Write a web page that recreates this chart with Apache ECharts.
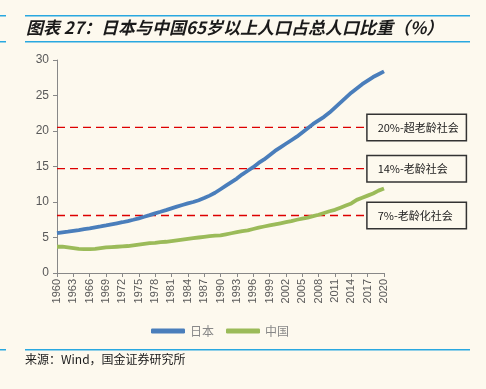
<!DOCTYPE html>
<html><head><meta charset="utf-8">
<script src="https://cdn.jsdelivr.net/npm/echarts@6/dist/echarts.min.js"></script>
<style>html,body{margin:0;padding:0;background:#fdf9ee;}#c{width:486px;height:389px;}</style>
</head><body><div id="c"></div>
<script>
const years = [];
for (let y = 1960; y <= 2020; y++) years.push(String(y));
const japan = [5.62,5.73,5.83,5.94,6.05,6.18,6.3,6.43,6.56,6.7,6.85,7.0,7.15,7.32,7.5,7.7,7.92,8.15,8.4,8.62,8.85,9.1,9.35,9.58,9.8,10.0,10.25,10.55,10.9,11.3,11.8,12.3,12.8,13.3,13.9,14.4,14.9,15.5,16.0,16.6,17.2,17.7,18.2,18.7,19.2,19.8,20.4,21.0,21.5,22.0,22.6,23.3,24.0,24.7,25.4,26.0,26.6,27.1,27.6,28.0,28.4];
const china = [3.7,3.7,3.6,3.5,3.4,3.35,3.35,3.4,3.5,3.6,3.65,3.7,3.75,3.8,3.9,4.0,4.1,4.2,4.25,4.35,4.4,4.5,4.6,4.7,4.8,4.9,5.0,5.1,5.2,5.25,5.3,5.45,5.6,5.75,5.9,6.0,6.2,6.4,6.55,6.7,6.85,7.0,7.15,7.3,7.5,7.65,7.8,8.0,8.2,8.45,8.7,8.9,9.2,9.5,9.8,10.3,10.6,10.9,11.2,11.6,11.9];
const seriesNames = ['日本','中国'];
const thresholds = [20.5, 14.7, 8.1];
const thresholdLabels = ['20%-超老龄社会','14%-老龄社会','7%-老龄化社会'];
const thresholdEnd = '2017';
const titleText = '图表 27：日本与中国65岁以上人口占总人口比重（%）';
const sourceText = '来源：Wind，国金证券研究所';

const chart = echarts.init(document.getElementById('c'));
const thresholdSeries = thresholds.map((v, i) => ({
  type: 'line',
  name: 'th' + i,
  data: [[years[0], v], [thresholdEnd, v]],
  symbol: 'none',
  silent: true,
  lineStyle: {color: '#dd0000', width: 1.3, type: [8, 5]},
  z: 1,
  endLabel: {
    show: true,
    formatter: thresholdLabels[i],
    distance: 0,
    color: '#222',
    fontSize: 11,
    fontFamily: '"Noto Sans CJK SC", sans-serif',
    backgroundColor: '#fdf9ee',
    borderColor: '#333',
    borderWidth: 1.5,
    width: 78,
    align: 'left',
    padding: [7, 10, 7, 10]
  }
}));

chart.setOption({
  backgroundColor: '#fdf9ee',
  animation: false,
  textStyle: {fontFamily: 'Liberation Sans, Arial, sans-serif'},
  grid: {left: 57, right: 102, top: 60, bottom: 116},
  legend: {
    data: seriesNames,
    left: 146, top: 320,
    itemWidth: 34, itemHeight: 5, itemGap: 12,
    icon: 'roundRect',
    textStyle: {color: '#888', fontSize: 12, fontFamily: '"Noto Sans CJK SC", sans-serif'}
  },
  xAxis: {
    type: 'category',
    data: years,
    boundaryGap: false,
    axisLine: {lineStyle: {color: '#888', width: 1}},
    axisTick: {interval: 2, length: 4, lineStyle: {color: '#888'}},
    axisLabel: {interval: 2, rotate: 90, color: '#595959', fontSize: 11, margin: 6}
  },
  yAxis: {
    type: 'value',
    min: 0, max: 30, interval: 5,
    splitLine: {show: false},
    axisLine: {show: true, lineStyle: {color: '#888', width: 1}},
    axisTick: {show: true, length: 4, lineStyle: {color: '#888'}},
    axisLabel: {color: '#595959', fontSize: 12, margin: 8}
  },
  series: [
    {name: seriesNames[0], type: 'line', data: japan, symbol: 'none', smooth: false,
     lineStyle: {color: '#4a7ebb', width: 3.8}, itemStyle: {color: '#4a7ebb'}, z: 3},
    {name: seriesNames[1], type: 'line', data: china, symbol: 'none', smooth: false,
     lineStyle: {color: '#9bbb59', width: 3.8}, itemStyle: {color: '#9bbb59'}, z: 3}
  ].concat(thresholdSeries),
  graphic: [
    {type: 'rect', shape: {x: 25, y: 15, width: 445, height: 1.5}, style: {fill: '#29a8e0'}},
    {type: 'rect', shape: {x: 25, y: 41, width: 445, height: 1.5}, style: {fill: '#29a8e0'}},
    {type: 'rect', shape: {x: 0, y: 15, width: 6, height: 1.5}, style: {fill: '#29a8e0'}},
    {type: 'rect', shape: {x: 0, y: 41, width: 6, height: 1.5}, style: {fill: '#29a8e0'}},
    {type: 'rect', shape: {x: 25, y: 349, width: 445, height: 1.5}, style: {fill: '#29a8e0'}},
    {type: 'rect', shape: {x: 0, y: 349, width: 6, height: 1.5}, style: {fill: '#29a8e0'}},
    {type: 'text', left: 26, top: 19, style: {text: titleText, fill: '#1a1a1a',
      font: 'italic bold 17px "Noto Sans CJK SC", "Liberation Sans", sans-serif'}},
    {type: 'text', left: 25, top: 353, style: {text: sourceText, fill: '#1a1a1a',
      font: '12px "Noto Sans CJK SC", "Liberation Sans", sans-serif'}}
  ]
});
</script></body></html>
